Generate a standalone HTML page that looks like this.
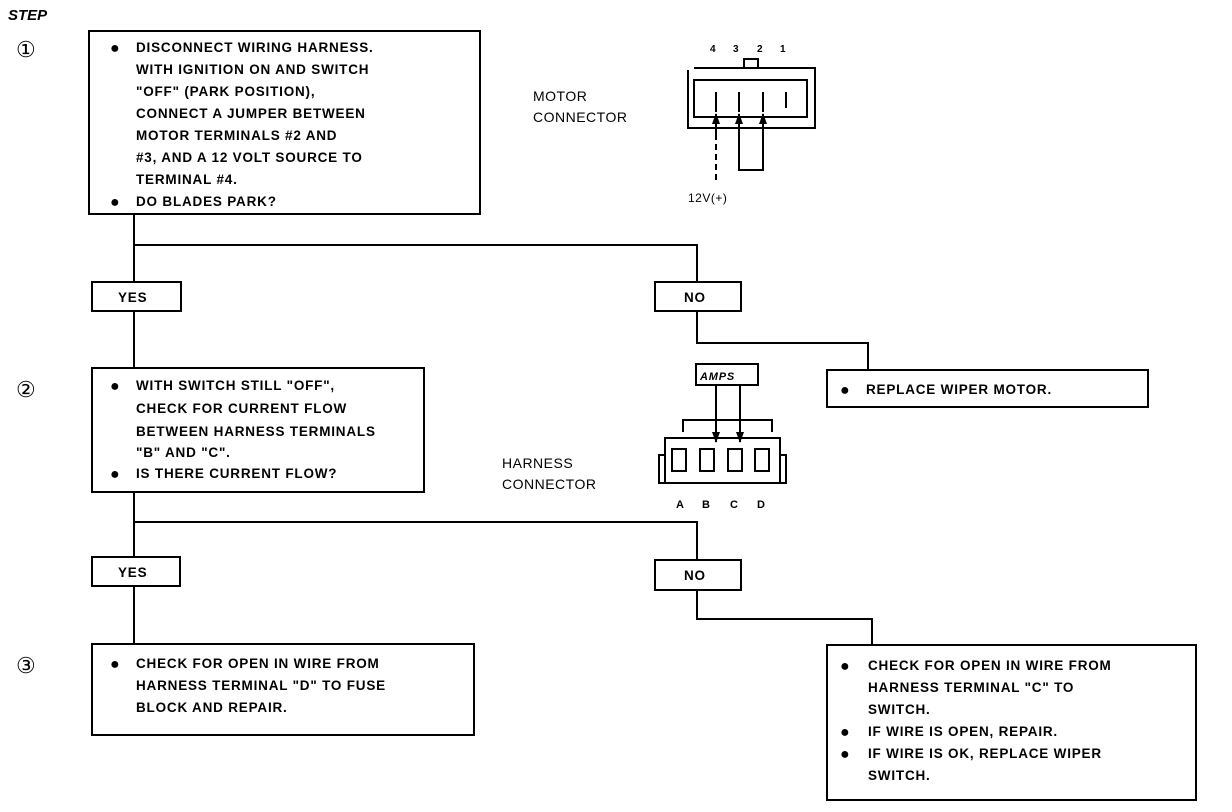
<!DOCTYPE html>
<html><head><meta charset="utf-8"><style>
html,body{margin:0;padding:0;background:#fff;}
svg{display:block;}
text{font-family:"Liberation Sans",sans-serif;fill:#000;}
.b{font-weight:bold;font-size:13.5px;letter-spacing:0.8px;}
.n{font-size:14px;letter-spacing:0.5px;}
.d{font-size:16px;}
</style></head><body>
<svg width="1232" height="812" viewBox="0 0 1232 812" xmlns="http://www.w3.org/2000/svg">
<defs><marker id="ah" markerWidth="11" markerHeight="8" refX="10" refY="4" orient="auto" markerUnits="userSpaceOnUse"><path d="M0,0 L11,4 L0,8 Z" fill="#000"/></marker></defs>
<g fill="none" stroke="#000" stroke-width="2">
<rect x="89" y="31" width="391" height="183"/>
<rect x="92" y="282" width="89" height="29"/>
<rect x="655" y="282" width="86" height="29"/>
<rect x="827" y="370" width="321" height="37"/>
<rect x="92" y="368" width="332" height="124"/>
<rect x="92" y="557" width="88" height="29"/>
<rect x="655" y="560" width="86" height="30"/>
<rect x="92" y="644" width="382" height="91"/>
<rect x="827" y="645" width="369" height="155"/>
<polyline points="134,214 134,282"/>
<polyline points="134,245 697,245 697,282"/>
<polyline points="697,311 697,343 868,343 868,370"/>
<polyline points="134,311 134,368"/>
<polyline points="134,492 134,557"/>
<polyline points="134,522 697,522 697,560"/>
<polyline points="697,590 697,619 872,619 872,645"/>
<polyline points="134,586 134,644"/>
<polyline points="694,68 815,68 815,128 688,128 688,70"/>
<rect x="694" y="80" width="113" height="37"/>
<rect x="744" y="59" width="14" height="9"/>
<line x1="716" y1="92" x2="716" y2="112"/><line x1="739" y1="92" x2="739" y2="112"/><line x1="763" y1="92" x2="763" y2="112"/><line x1="786" y1="92" x2="786" y2="108"/>
<line x1="716" y1="180" x2="716" y2="138" stroke-dasharray="6,4"/>
<polyline points="739,138 739,170 763,170 763,138"/>
<rect x="696" y="364" width="62" height="21"/>
<polyline points="683,432 683,420 772,420 772,432"/>
<rect x="665" y="438" width="115" height="45"/>
<rect x="659" y="455" width="6" height="28"/>
<rect x="780" y="455" width="6" height="28"/>
<rect x="672" y="449" width="14" height="22"/><rect x="700" y="449" width="14" height="22"/><rect x="728" y="449" width="14" height="22"/><rect x="755" y="449" width="14" height="22"/>
</g>
<line x1="716" y1="140" x2="716" y2="114" stroke="#000" stroke-width="2" marker-end="url(#ah)"/>
<line x1="739" y1="140" x2="739" y2="114" stroke="#000" stroke-width="2" marker-end="url(#ah)"/>
<line x1="763" y1="140" x2="763" y2="114" stroke="#000" stroke-width="2" marker-end="url(#ah)"/>
<line x1="716" y1="385" x2="716" y2="442" stroke="#000" stroke-width="2" marker-end="url(#ah)"/>
<line x1="740" y1="385" x2="740" y2="442" stroke="#000" stroke-width="2" marker-end="url(#ah)"/>

<text x="8" y="20" font-weight="bold" font-style="italic" font-size="15">STEP</text>
<text x="16" y="57" font-size="22">①</text>
<text x="16" y="397" font-size="22">②</text>
<text x="16" y="673" font-size="22">③</text>

<g class="b">
<text class="d" x="110" y="53">●</text>
<text x="136" y="52">DISCONNECT WIRING HARNESS.</text>
<text x="136" y="74">WITH IGNITION ON AND SWITCH</text>
<text x="136" y="96">"OFF" (PARK POSITION),</text>
<text x="136" y="118">CONNECT A JUMPER BETWEEN</text>
<text x="136" y="140">MOTOR TERMINALS #2 AND</text>
<text x="136" y="162">#3, AND A 12 VOLT SOURCE TO</text>
<text x="136" y="184">TERMINAL #4.</text>
<text class="d" x="110" y="207">●</text>
<text x="136" y="206">DO BLADES PARK?</text>
<text x="118" y="302">YES</text>
<text x="684" y="302">NO</text>
<text class="d" x="840" y="395">●</text>
<text x="866" y="394">REPLACE WIPER MOTOR.</text>
<text class="d" x="110" y="391">●</text>
<text x="136" y="390">WITH SWITCH STILL "OFF",</text>
<text x="136" y="413">CHECK FOR CURRENT FLOW</text>
<text x="136" y="436">BETWEEN HARNESS TERMINALS</text>
<text x="136" y="457">"B" AND "C".</text>
<text class="d" x="110" y="479">●</text>
<text x="136" y="478">IS THERE CURRENT FLOW?</text>
<text x="118" y="577">YES</text>
<text x="684" y="580">NO</text>
<text class="d" x="110" y="669">●</text>
<text x="136" y="668">CHECK FOR OPEN IN WIRE FROM</text>
<text x="136" y="690">HARNESS TERMINAL "D" TO FUSE</text>
<text x="136" y="712">BLOCK AND REPAIR.</text>
<text class="d" x="840" y="671">●</text>
<text x="868" y="670">CHECK FOR OPEN IN WIRE FROM</text>
<text x="868" y="692">HARNESS TERMINAL "C" TO</text>
<text x="868" y="714">SWITCH.</text>
<text class="d" x="840" y="737">●</text>
<text x="868" y="736">IF WIRE IS OPEN, REPAIR.</text>
<text class="d" x="840" y="759">●</text>
<text x="868" y="758">IF WIRE IS OK, REPLACE WIPER</text>
<text x="868" y="780">SWITCH.</text>
<text x="700" y="380" font-style="italic" font-size="11">AMPS</text>
<text x="676" y="508" font-size="11">A</text>
<text x="702" y="508" font-size="11">B</text>
<text x="730" y="508" font-size="11">C</text>
<text x="757" y="508" font-size="11">D</text>
<text x="710" y="52" font-size="10">4</text>
<text x="733" y="52" font-size="10">3</text>
<text x="757" y="52" font-size="10">2</text>
<text x="780" y="52" font-size="10">1</text>
</g>
<g class="n">
<text x="533" y="101">MOTOR</text>
<text x="533" y="122">CONNECTOR</text>
<text x="502" y="468">HARNESS</text>
<text x="502" y="489">CONNECTOR</text>
<text x="688" y="202" font-size="12">12V(+)</text>
</g>
</svg>
</body></html>
